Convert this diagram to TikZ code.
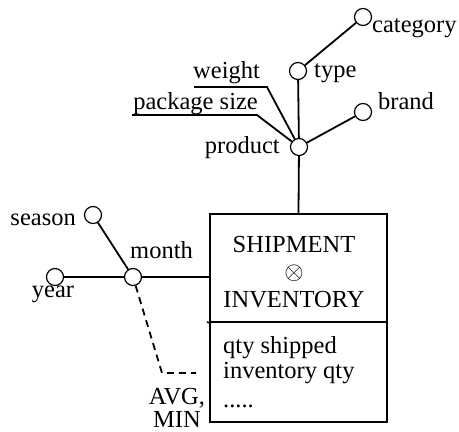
\documentclass[tikz,border=0pt]{standalone}
\usepackage{fontspec}
\setmainfont{Liberation Serif}
\begin{document}
\begin{tikzpicture}[x=1pt,y=-1pt,
  conn/.style={line width=1.8pt},
  dot/.style={circle, draw, fill=white, line width=1.2pt, minimum size=17pt, inner sep=0pt},
  lbl/.style={inner sep=0pt, font=\fontsize{24.5}{27.5}\selectfont},
  boxpart/.style={draw, line width=1.6pt, minimum width=177pt, inner sep=0pt}]
\useasboundingbox (0,0) rectangle (459,432);
% fact box
\node[boxpart, minimum height=108pt] (fact) at (298.5,268) {};
\node[boxpart, minimum height=100pt] (meas) at (298.5,372) {};
\coordinate (divL) at (207,322);
\draw[line width=1.6pt] (divL) -- (fact.south west);
\node[lbl, anchor=base, align=center] (title) at (294,307) {SHIPMENT\\$\otimes$\\INVENTORY};
\node[lbl, anchor=base west, align=left] (meas1) at (223,407) {qty shipped\\[-2.5pt]inventory qty\\[1.5pt].....};
% coordinates for underlines
\coordinate (wL) at (194,87);
\coordinate (wR) at (267,87);
\coordinate (pL) at (132,115);
\coordinate (pR) at (257,115);
\coordinate (dk) at (162,373);
\coordinate (de) at (196,373);
% circles
\node[dot] (cat) at (363,17) {};
\node[dot] (type) at (298,71) {};
\node[dot] (brand) at (363,112) {};
\node[dot] (prod) at (299,147) {};
\node[dot] (season) at (93,215) {};
\node[dot] (month) at (133,277) {};
\node[dot] (year) at (55,277) {};
% connectors
\draw[conn] (type) -- (cat);
\draw[conn] (type) -- (prod);
\draw[conn] (prod) -- (brand);
\draw[conn] (prod) -- (fact.north);
\draw[conn] (wL) -- (wR) -- (prod);
\draw[conn] (pL) -- (pR) -- (prod);
\draw[conn] (season) -- (month);
\draw[conn] (year) -- (month);
\draw[conn] (month) -- (month -| fact.west);
\draw[conn, dash pattern=on 7pt off 5pt] (month) -- (dk) -- (de);
% labels
\node[lbl, anchor=base west] (lcat) at (372,32) {category};
\node[lbl, anchor=base west] (ltype) at (314,77) {type};
\node[lbl, anchor=base west] (lbrand) at (378,109) {brand};
\node[lbl, anchor=base east] (lprod) at (280,153) {product};
\node[lbl, anchor=base west] (lweight) at (193,78) {weight};
\node[lbl, anchor=base east] (lpack) at (258,109) {package size};
\node[lbl, anchor=base east] (lseason) at (76,225) {season};
\node[lbl, anchor=base west] (lmonth) at (130,258) {month};
\node[lbl, anchor=base] (lyear) at (53,297) {year};
\node[lbl, anchor=base, align=center] (lagg) at (177,427) {AVG,\\[-5pt]MIN};
\end{tikzpicture}
\end{document}
